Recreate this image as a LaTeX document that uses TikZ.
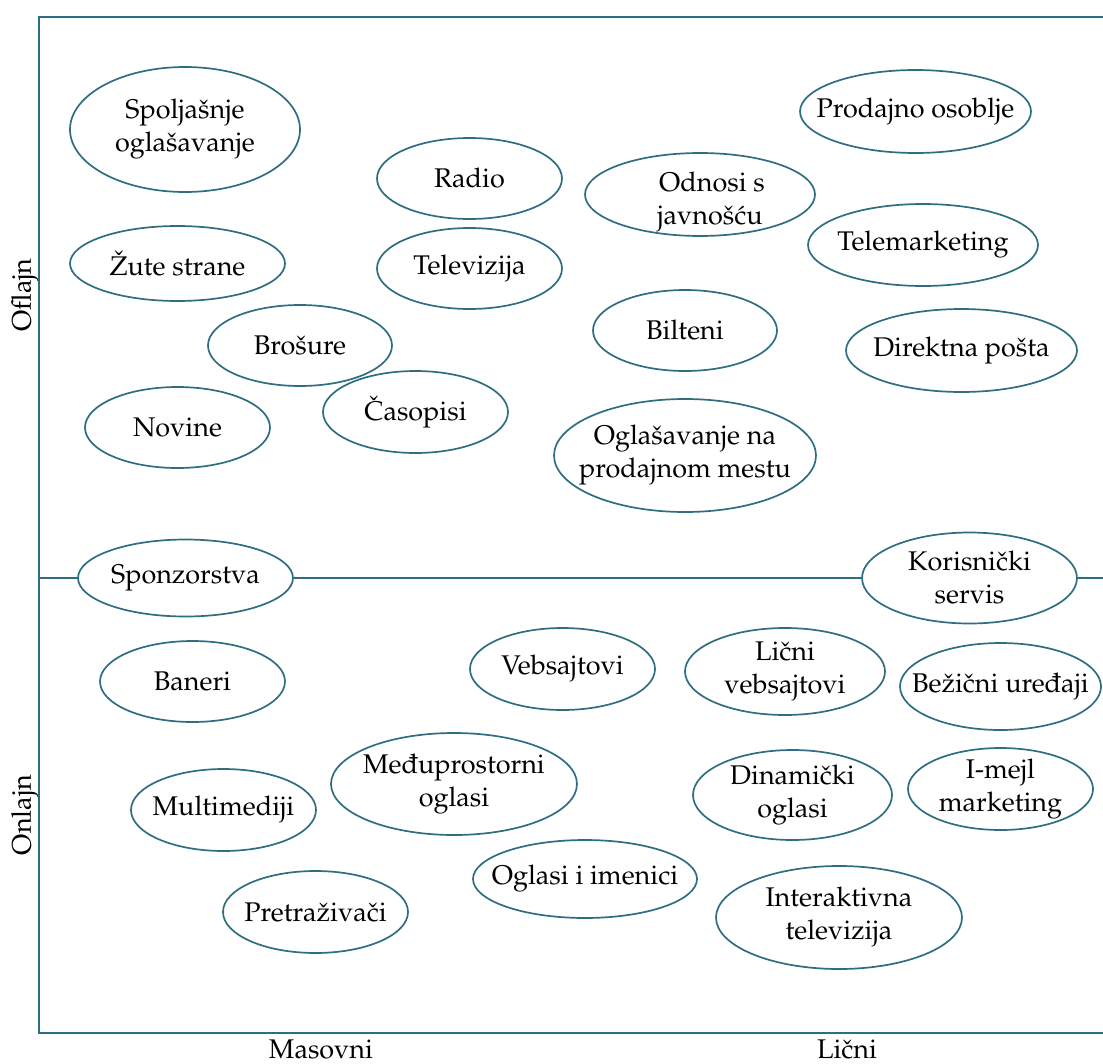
\documentclass[tikz,border=0pt]{standalone}
\usepackage[T1]{fontenc}
\usepackage{mathpazo}
\usetikzlibrary{shapes.geometric}
\definecolor{tealline}{RGB}{46,110,128}
\begin{document}
\begin{tikzpicture}[x=1pt,y=-1pt,
  oval/.style={ellipse, draw=tealline, line width=1.7pt, fill=white,
    inner xsep=-45pt, inner ysep=-18pt,
    align=center, font=\fontsize{27}{33}\selectfont},
  axisline/.style={draw=tealline, line width=1.7pt},
  lab/.style={font=\fontsize{27}{33}\selectfont, inner sep=0pt}]
\useasboundingbox (0,0) rectangle (1103,1063);
\coordinate (tl) at (39,17);
\coordinate (tr) at (1103,17);
\coordinate (bl) at (39,1033);
\coordinate (br) at (1103,1033);
\coordinate (ml) at (39,578);
\coordinate (mr) at (1103,578);
\draw[axisline] (tr) -- (tl) -- (bl) -- (br);

% offline
\node[oval, minimum width=230pt, minimum height=125pt] (spol) at (185,129.5) {Spolja\v{s}nje\\ogla\v{s}avanje};
\node[oval, minimum width=185pt, minimum height=81pt] (radio) at (469.5,178.5) {Radio};
\node[oval, minimum width=230pt, minimum height=83pt] (odnosi) at (700,194.5) {\rule{0pt}{35pt}\hspace*{24pt}Odnosi s\\\hspace*{20pt}javno\v{s}\'cu};
\node[oval, minimum width=231pt, minimum height=83pt] (prod) at (915.5,111.5) {Prodajno osoblje};
\node[oval, minimum width=215pt, minimum height=75pt] (zute) at (177.5,263.5) {\v{Z}ute strane};
\node[oval, minimum width=185pt, minimum height=81pt] (tv) at (469.5,268.5) {Televizija};
\node[oval, minimum width=230pt, minimum height=82pt] (tele) at (923,245) {Telemarketing};
\node[oval, minimum width=184pt, minimum height=81pt] (bros) at (300,345.5) {Bro\v{s}ure};
\node[oval, minimum width=184pt, minimum height=81pt] (bilt) at (685,330.5) {Bilteni};
\node[oval, minimum width=231pt, minimum height=83pt] (dir) at (961.5,350.5) {Direktna po\v{s}ta};
\node[oval, minimum width=185pt, minimum height=81pt] (nov) at (177.5,427.5) {Novine};
\node[oval, minimum width=185pt, minimum height=82pt] (cas) at (415.5,412) {\v{C}asopisi};
\node[oval, minimum width=262pt, minimum height=113pt] (ogl) at (685,455.5) {Ogla\v{s}avanje na\\prodajnom mestu};

% middle line nodes
\node[oval, minimum width=215pt, minimum height=77pt] (spon) at (185.5,578) {Sponzorstva};
\node[oval, minimum width=215pt, minimum height=91pt] (kor) at (969.5,578) {Korisni\v{c}ki\\servis};
\draw[axisline] (ml) -- (spon) -- (kor) -- (mr);

% online
\node[oval, minimum width=185pt, minimum height=81pt] (ban) at (192.5,681.5) {Baneri};
\node[oval, minimum width=185pt, minimum height=82pt] (veb) at (562.5,669) {Vebsajtovi};
\node[oval, minimum width=200pt, minimum height=87pt] (licveb) at (785,671.5) {Li\v{c}ni\\vebsajtovi};
\node[oval, minimum width=201pt, minimum height=87pt] (bez) at (1000.5,686.5) {Be\v{z}i\v{c}ni ure\dj aji};
\node[oval, minimum width=185pt, minimum height=82pt] (multi) at (223.5,810) {Multimediji};
\node[oval, minimum width=246pt, minimum height=102pt] (medju) at (454,784) {Me\dj uprostorni\\oglasi};
\node[oval, minimum width=199pt, minimum height=90pt] (din) at (792.5,795) {Dinami\v{c}ki\\oglasi};
\node[oval, minimum width=185pt, minimum height=82pt] (imejl) at (1000.5,789) {I-mejl\\marketing};
\node[oval, minimum width=224pt, minimum height=78pt] (oglim) at (585,879) {Oglasi i imenici};
\node[oval, minimum width=185pt, minimum height=82pt] (pret) at (315.5,912) {Pretra\v{z}iva\v{c}i};
\node[oval, minimum width=246pt, minimum height=103pt] (itv) at (839,917.5) {Interaktivna\\televizija};

% axis labels
\node[lab, rotate=90] (oflajn) at (25,295) {Oflajn};
\node[lab, rotate=90] (onlajn) at (25,815) {Onlajn};
\node[lab] (masovni) at (321,1049) {Masovni};
\node[lab] (licni) at (847,1049) {Li\v{c}ni};
\end{tikzpicture}
\end{document}
